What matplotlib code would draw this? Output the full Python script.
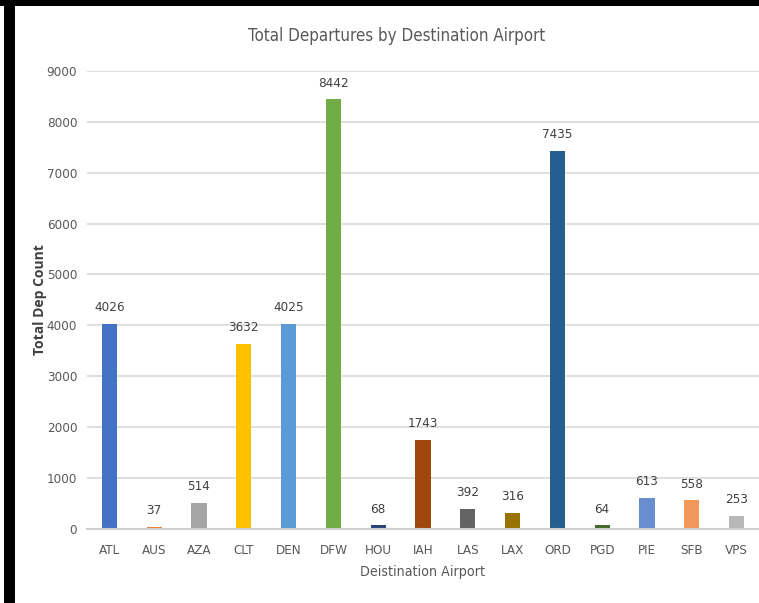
import matplotlib.pyplot as plt
from matplotlib import font_manager
from matplotlib.patches import Rectangle

airports = ["ATL", "AUS", "AZA", "CLT", "DEN", "DFW", "HOU", "IAH",
            "LAS", "LAX", "ORD", "PGD", "PIE", "SFB", "VPS"]
dep_counts = [4026, 37, 514, 3632, 4025, 8442, 68, 1743,
              392, 316, 7435, 64, 613, 558, 253]
bar_colors = ["#4472C4", "#ED7D31", "#A5A5A5", "#FFC000", "#5B9BD5",
              "#70AD47", "#264478", "#9E480E", "#636363", "#997300",
              "#255E91", "#43682B", "#698ED0", "#F1975A", "#B7B7B7"]
y_ticks = [0, 1000, 2000, 3000, 4000, 5000, 6000, 7000, 8000, 9000]

# pick a narrow face if one is installed (reference uses a condensed look)
names = {f.name for f in font_manager.fontManager.ttflist}
narrow = None
for f in font_manager.fontManager.ttflist:
    if f.name == "Liberation Sans Narrow" and f.weight in (400, "normal", "regular") and f.style == "normal":
        narrow = f.name
        break
if narrow is None:
    for f in font_manager.fontManager.ttflist:
        if ("condensed" in str(f.stretch) and f.style == "normal"
                and f.weight in (400, "normal", "regular") and "Sans" in f.name):
            narrow = f.name
            break
scale = 1.0
if narrow is None:
    narrow = "Roboto" if "Roboto" in names else "DejaVu Sans"
    scale = 0.88
font = [narrow, "DejaVu Sans"]
stretch = "condensed"

W, H = 759, 603
fig = plt.figure(figsize=(W / 100, H / 100), dpi=100)
fig.patch.set_facecolor("white")

ax = fig.add_axes([87 / W, 74.3 / H, (W - 87) / W, (528.7 - 71) / H])
x = list(range(len(airports)))
bars = ax.bar(x, dep_counts, width=0.335, color=bar_colors, zorder=3)

for xi, v in zip(x, dep_counts):
    ax.annotate(str(v), (xi, v), xytext=(0, 7), textcoords="offset points",
                ha="center", va="bottom", fontsize=9.6 * scale, color="#404040",
                family=font, fontstretch=stretch)

ax.set_xlim(-0.5, len(airports) - 0.5)
ax.set_ylim(0, 9000)
ax.set_yticks(y_ticks)
ax.set_xticks(x)
ax.set_xticklabels(airports)
ax.grid(axis="y", color="#d9d9d9", linewidth=1.2, zorder=0)
ax.tick_params(length=0, colors="#595959", labelsize=9.6 * scale)
ax.tick_params(axis="y", pad=7)
ax.tick_params(axis="x", pad=11)
for lbl in ax.get_xticklabels() + ax.get_yticklabels():
    lbl.set_family(font)
    lbl.set_fontstretch(stretch)
for s in ["top", "right", "left"]:
    ax.spines[s].set_visible(False)
ax.spines["bottom"].set_color("#d0d0d0")
ax.spines["bottom"].set_linewidth(1.5)
ax.spines["bottom"].set_zorder(4)

ax.set_xlabel("Deistination Airport", fontsize=10.2 * scale, color="#595959",
              family=font, fontstretch=stretch, labelpad=6)
fig.text(40 / W, 1 - 300 / H, "Total Dep Count", rotation=90, ha="center",
         va="center", fontsize=10, fontweight="bold", color="#404040",
         family=["Open Sans", "DejaVu Sans"])
fig.text(397 / W, 1 - 36 / H, "Total Departures by Destination Airport",
         ha="center", va="center", fontsize=12.2 * scale, color="#595959",
         family=font, fontstretch=stretch)

# screenshot frame
fig.patches.append(Rectangle((0, 1 - 6 / H), 1, 6 / H, transform=fig.transFigure,
                             facecolor="black", edgecolor="none", zorder=10))
fig.patches.append(Rectangle((4 / W, 0), 11 / W, 1, transform=fig.transFigure,
                             facecolor="black", edgecolor="none", zorder=10))

fig.savefig("out.png", dpi=100)
